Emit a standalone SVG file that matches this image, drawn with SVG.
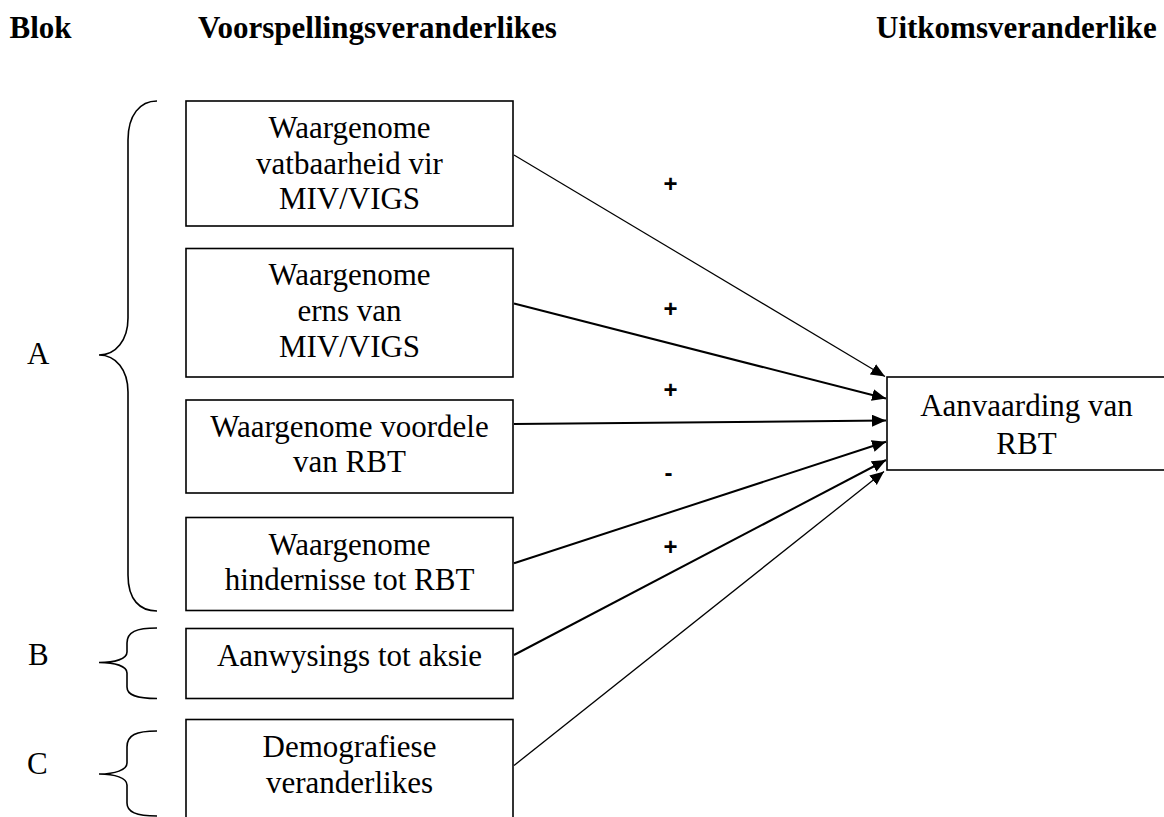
<svg xmlns="http://www.w3.org/2000/svg" width="1164" height="817" viewBox="0 0 1164 817">
<defs>
<style>
.hdr{font-family:"Liberation Serif","Times New Roman",serif;font-weight:bold;font-size:31px;fill:#000}
.t{font-family:"Liberation Serif","Times New Roman",serif;font-size:31px;fill:#000;text-anchor:middle}
.lbl{font-family:"Liberation Serif","Times New Roman",serif;font-size:31px;fill:#000}
.sign{font-family:"Liberation Sans",Arial,sans-serif;font-weight:bold;font-size:24px;fill:#000;text-anchor:middle}
.box{fill:#fff;stroke:#000;stroke-width:1.6}
.brace{fill:none;stroke:#000;stroke-width:1.6}
.arr{stroke:#000;fill:none;marker-end:url(#ah)}
</style>
<marker id="ah" markerUnits="userSpaceOnUse" markerWidth="15" markerHeight="13" refX="14" refY="6" orient="auto">
<path d="M0,0 L14,6 L0,12 z" fill="#000"/>
</marker>
</defs>
<rect width="1164" height="817" fill="#fff"/>
<g id="headers">
<text class="hdr" x="9.5" y="38">Blok</text>
<text class="hdr" x="198" y="38">Voorspellingsveranderlikes</text>
<text class="hdr" x="876" y="38">Uitkomsveranderlike</text>
</g>
<g id="braces">
<path class="brace" d="M157,101 C140,101 128,115 128,140 L128,318 C128,340 116,355 99,355 C116,355 128,370 128,392 L128,575 C128,600 140,611 157,611"/>
<text class="lbl" x="27" y="364">A</text>
<path class="brace" d="M157,628 C136,628 127,632 127,643 L127,652 C127,659 115,662.5 99,662.5 C115,662.5 127,666 127,673 L127,687 C127,695 136,698.5 157,698.5"/>
<text class="lbl" x="28" y="665">B</text>
<path class="brace" d="M157,731 C136,731 127,735 127,747 L127,763 C127,770 115,774 99,774 C115,774 127,778 127,785 L127,803 C127,812 136,816 157,816"/>
<text class="lbl" x="27" y="774">C</text>
</g>
<g id="connectors">
<line class="arr" x1="514" y1="155" x2="885" y2="376.5" stroke-width="1.2"/>
<line class="arr" x1="514" y1="303.5" x2="886" y2="398.5" stroke-width="2"/>
<line class="arr" x1="514" y1="424" x2="886" y2="420.5" stroke-width="2"/>
<line class="arr" x1="514" y1="563.3" x2="886" y2="441.7" stroke-width="2"/>
<line class="arr" x1="514" y1="655" x2="886" y2="460" stroke-width="2"/>
<line class="arr" x1="514" y1="765.5" x2="884" y2="471.5" stroke-width="1.3"/>
<text class="sign" x="670.5" y="191.7">+</text>
<text class="sign" x="670.5" y="317">+</text>
<text class="sign" x="670.5" y="397.7">+</text>
<text class="sign" x="668.5" y="481">-</text>
<text class="sign" x="670.5" y="555">+</text>
</g>
<g id="n1">
<rect class="box" x="186" y="101" width="327" height="125"/>
<text class="t" x="349.5" y="138">Waargenome</text>
<text class="t" x="349.5" y="173.5">vatbaarheid vir</text>
<text class="t" x="349.5" y="209">MIV/VIGS</text>
</g>
<g id="n2">
<rect class="box" x="186" y="248.5" width="327" height="128.5"/>
<text class="t" x="349.5" y="284.5">Waargenome</text>
<text class="t" x="349.5" y="320.5">erns van</text>
<text class="t" x="349.5" y="356.5">MIV/VIGS</text>
</g>
<g id="n3">
<rect class="box" x="186" y="400" width="327" height="93"/>
<text class="t" x="349.5" y="436.5">Waargenome voordele</text>
<text class="t" x="349.5" y="472">van RBT</text>
</g>
<g id="n4">
<rect class="box" x="186" y="517.5" width="327" height="93"/>
<text class="t" x="349.5" y="555">Waargenome</text>
<text class="t" x="349.5" y="590">hindernisse tot RBT</text>
</g>
<g id="nB">
<rect class="box" x="186" y="628.5" width="327" height="70"/>
<text class="t" x="349.5" y="665.5">Aanwysings tot aksie</text>
</g>
<g id="nC">
<rect class="box" x="186" y="719.5" width="327" height="120"/>
<text class="t" x="349.5" y="756.5">Demografiese</text>
<text class="t" x="349.5" y="792.5">veranderlikes</text>
</g>
<g id="out">
<rect class="box" x="887" y="377" width="280" height="93"/>
<text class="t" x="1026.5" y="416">Aanvaarding van</text>
<text class="t" x="1026.5" y="454">RBT</text>
</g>
</svg>
